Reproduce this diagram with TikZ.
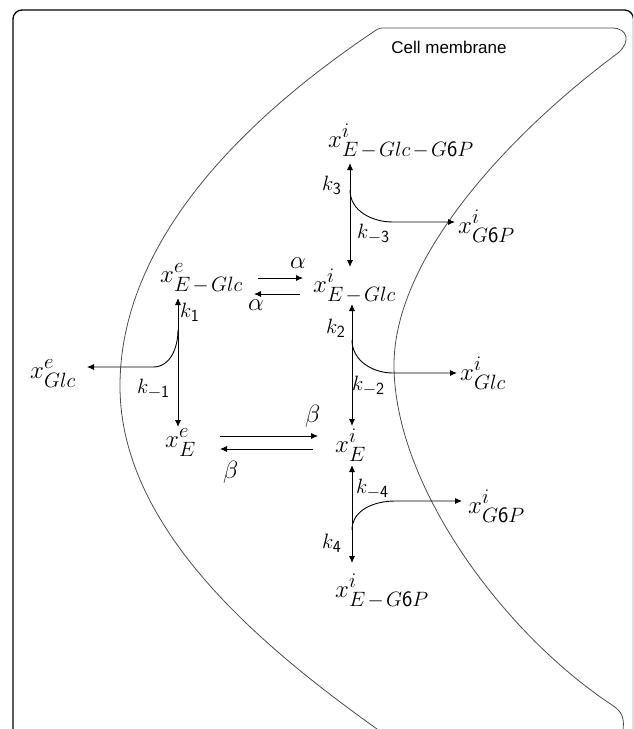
\documentclass[tikz,border=0pt]{standalone}
\usepackage{amsmath}
\usepackage{fontspec}
\newfontfamily\labelfont{Liberation Sans}
\usetikzlibrary{arrows.meta}
\DeclareMathSizes{27}{27}{22}{17}
\DeclareMathSizes{21}{21}{17}{13}
\newcommand\dg[1]{\mathsf{#1}}
\newcommand\ms{\mskip2mu{-}\mskip2mu}
\begin{document}
\begin{tikzpicture}[x=1pt,y=-1pt,
  mem/.style={draw=black!70, line width=0.8pt},
  lab/.style={anchor=base west, inner sep=0pt, font=\fontsize{27}{31}\selectfont},
  klab/.style={anchor=base west, inner sep=0pt, font=\fontsize{21}{25}\selectfont},
  arr/.style={line width=0.9pt, -{Latex[length=7pt,width=6pt]}},
  darr/.style={line width=0.9pt, {Latex[length=7pt,width=6pt]}-{Latex[length=7pt,width=6pt]}},
]
\useasboundingbox (0,0) rectangle (633,729);
\clip (0,0) rectangle (633,729);
% frame
\draw[line width=1.3pt, rounded corners=9pt] (13,760) -- (13,10) -- (633.5,10) -- (633.5,760);
% membrane
\draw[mem] (612,28) -- (384,28) .. controls (380,28) and (379,28.5) .. (377,29.5)
  .. controls (253,112) and (120,236) .. (120,386)
  .. controls (120,526) and (255,642) .. (377,729) -- (400,745);
\draw[mem] (612,28) .. controls (628,28) and (631,42) .. (618,53)
  .. controls (514,130) and (394,255) .. (394,365)
  .. controls (394,485) and (503,633) .. (612,705)
  .. controls (626,714) and (624,722) .. (622,740);
\node[font=\labelfont\fontsize{17}{20}\selectfont] (cm) at (449,47) {Cell membrane};
% species
\node[lab] (n1) at (328,147) {$x^i_{E\ms Glc\ms G\dg{6}P}$};
\node[lab] (n2) at (458,233) {$x^i_{G\dg{6}P}$};
\node[lab] (n3) at (160,282) {$x^e_{E\ms Glc}$};
\node[lab] (n4) at (313,292) {$x^i_{E\ms Glc}$};
\node[lab] (n5) at (30,378) {$x^e_{Glc}$};
\node[lab] (n6) at (460,380) {$x^i_{Glc}$};
\node[lab] (n7) at (165,447) {$x^e_E$};
\node[lab] (n8) at (335,452) {$x^i_E$};
\node[lab] (n9) at (468,513) {$x^i_{G\dg{6}P}$};
\node[lab] (n10) at (335,597) {$x^i_{E\ms G\dg{6}P}$};
% rate labels
\node[klab] (k3) at (322,190) {$k_{\dg{3}}$};
\node[klab] (km3) at (357,238) {$k_{-\dg{3}}$};
\node[klab] (k1) at (180,317) {$k_{\dg{1}}$};
\node[klab] (km1) at (137,393) {$k_{-\dg{1}}$};
\node[klab] (k2) at (326,333) {$k_{\dg{2}}$};
\node[klab] (km2) at (352,390) {$k_{-\dg{2}}$};
\node[klab] (km4) at (356,493) {$k_{-\dg{4}}$};
\node[klab] (k4) at (322,548) {$k_{\dg{4}}$};
\node[lab] (a1) at (290,268) {$\alpha$};
\node[lab] (a2) at (248,310) {$\alpha$};
\node[lab] (b1) at (305,422) {$\beta$};
\node[lab] (b2) at (223,478) {$\beta$};
% connector end points
\coordinate (v3t) at (350,163); \coordinate (v3b) at (350,267);
\coordinate (c3) at (350,190); \coordinate (c3h) at (393,222); \coordinate (c3e) at (455,222);
\coordinate (a1s) at (258,278); \coordinate (a1e) at (303,278);
\coordinate (a2s) at (300,294); \coordinate (a2e) at (254,294);
\coordinate (v1t) at (178,298); \coordinate (v1b) at (178,427);
\coordinate (c1) at (178,330); \coordinate (c1h) at (153,367); \coordinate (c1e) at (87,367);
\coordinate (v2t) at (352,304); \coordinate (v2b) at (352,426);
\coordinate (c2) at (352,340); \coordinate (c2h) at (393,373); \coordinate (c2e) at (457,373);
\coordinate (b1s) at (220,436); \coordinate (b1e) at (318,436);
\coordinate (b2s) at (313,449); \coordinate (b2e) at (220,449);
\coordinate (v4t) at (352,465); \coordinate (v4b) at (352,563);
\coordinate (c4) at (352,530); \coordinate (c4h) at (395,501); \coordinate (c4e) at (462,501);
% connectors
\draw[darr] (v3b) -- (v3t);
\draw[arr] (c3) to[out=-90,in=180] (c3h) -- (c3e);
\draw[arr] (a1s) -- (a1e);
\draw[arr] (a2s) -- (a2e);
\draw[darr] (v1b) -- (v1t);
\draw[arr] (c1) to[out=-90,in=0] (c1h) -- (c1e);
\draw[darr] (v2b) -- (v2t);
\draw[arr] (c2) to[out=-90,in=180] (c2h) -- (c2e);
\draw[arr] (b1s) -- (b1e);
\draw[arr] (b2s) -- (b2e);
\draw[darr] (v4b) -- (v4t);
\draw[arr] (c4) to[out=90,in=180] (c4h) -- (c4e);
\end{tikzpicture}
\end{document}
